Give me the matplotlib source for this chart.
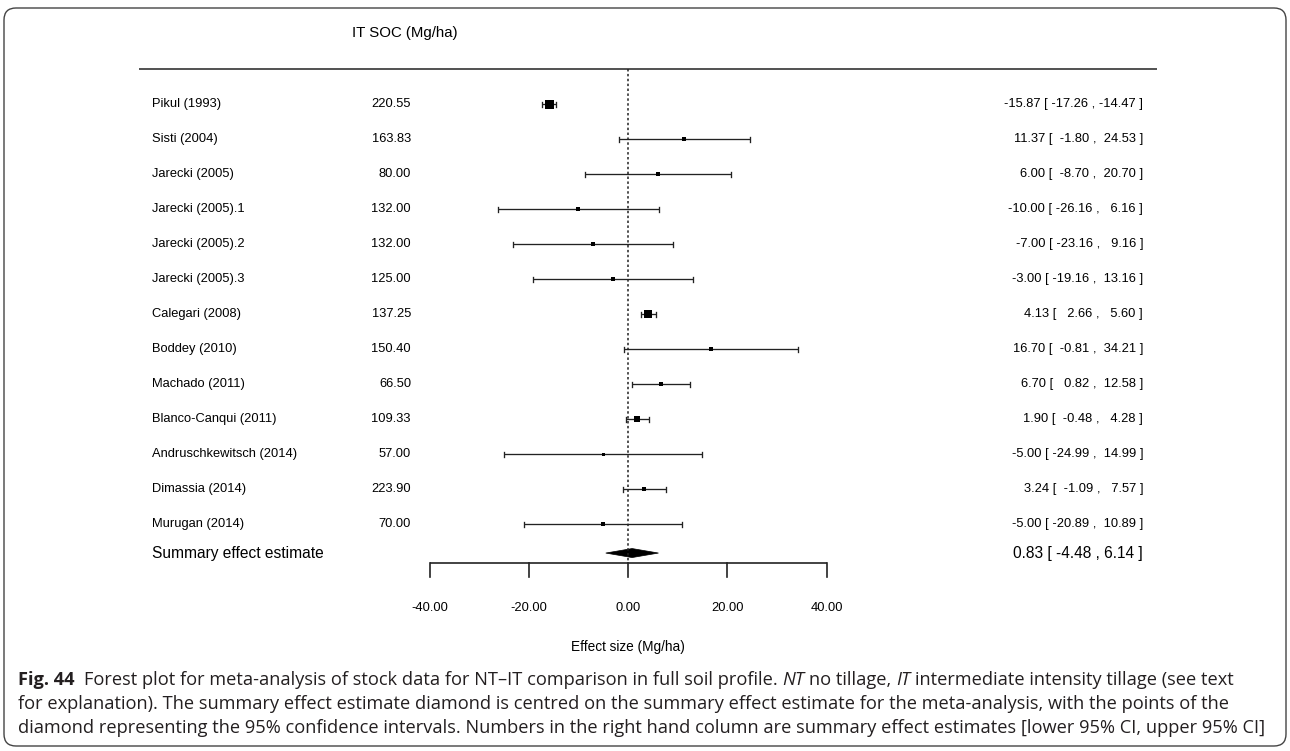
import numpy as np
import matplotlib
matplotlib.use("Agg")
import matplotlib.pyplot as plt
from matplotlib.patches import FancyBboxPatch, Polygon
from matplotlib.transforms import blended_transform_factory

# data
studies = ["Pikul (1993)", "Sisti (2004)", "Jarecki (2005)", "Jarecki (2005).1",
           "Jarecki (2005).2", "Jarecki (2005).3", "Calegari (2008)", "Boddey (2010)",
           "Machado (2011)", "Blanco-Canqui (2011)", "Andruschkewitsch (2014)",
           "Dimassia (2014)", "Murugan (2014)"]
it_soc = [220.55, 163.83, 80.00, 132.00, 132.00, 125.00, 137.25, 150.40,
          66.50, 109.33, 57.00, 223.90, 70.00]
effect = [-15.87, 11.37, 6.00, -10.00, -7.00, -3.00, 4.13, 16.70,
          6.70, 1.90, -5.00, 3.24, -5.00]
ci_low = [-17.26, -1.80, -8.70, -26.16, -23.16, -19.16, 2.66, -0.81,
          0.82, -0.48, -24.99, -1.09, -20.89]
ci_high = [-14.47, 24.53, 20.70, 6.16, 9.16, 13.16, 5.60, 34.21,
           12.58, 4.28, 14.99, 7.57, 10.89]
summary_est, summary_low, summary_high = 0.83, -4.48, 6.14
x_ticks = [-40, -20, 0, 20, 40]

caption = [
    [("Fig. 44", "bold"), ("Forest plot for meta-analysis of stock data for NT\u2013IT comparison in full soil profile.", "normal"),
     ("NT", "italic"), ("no tillage,", "normal"), ("IT", "italic"),
     ("intermediate intensity tillage (see text", "normal")],
    [("for explanation). The summary effect estimate diamond is centred on the summary effect estimate for the meta-analysis, with the points of the", "normal")],
    [("diamond representing the 95% confidence intervals. Numbers in the right hand column are summary effect estimates [lower 95% CI, upper 95% CI]", "normal")],
]

# layout (figure pixels)
W, H = 1290, 751
X0_PX = 628.0
PX_PER_UNIT = (826.0 - 429.0) / 80.0
ROW0_PX, ROW_PX = 104.0, 35.0
FS = 9.3
plt.rcParams['font.family'] = ['Liberation Sans', 'DejaVu Sans']


def row_of(px):
    return (px - ROW0_PX) / ROW_PX


fig = plt.figure(figsize=(W / 100, H / 100), dpi=100)
bg = fig.add_axes([0, 0, 1, 1])
bg.set_xlim(0, W)
bg.set_ylim(H, 0)
bg.axis('off')
ax = fig.add_axes([0, 0, 1, 1])
ax.set_xlim(-X0_PX / PX_PER_UNIT, (W - X0_PX) / PX_PER_UNIT)
ax.set_ylim(row_of(H), row_of(0))
ax.axis('off')
ax.patch.set_alpha(0)
tr = blended_transform_factory(bg.transData, ax.transData)

# frame
bg.add_patch(FancyBboxPatch((4, 8), 1282, 738, boxstyle="round,pad=0,rounding_size=12",
                            lw=1.0, ec='#444444', fc='none'))

# header and top rule
bg.text(352, 33, "IT SOC (Mg/ha)", fontsize=10.8, ha='left', va='center')
bg.plot([139, 1157], [69, 69], color='#333333', lw=1.2, solid_capstyle='butt')

n = len(studies)
y = np.arange(n)
lo = np.array(ci_low)
hi = np.array(ci_high)
# box size from (sqrt) inverse-variance weights
w = np.sqrt(1.0 / ((hi - lo) / 3.92) ** 2)
psize = (w - w.min()) / (w.max() - w.min()) + 0.5
box_px = psize * 6.0

cap = 2.5 / ROW_PX
axis_y = row_of(563)
ax.plot([0, 0], [row_of(69), axis_y], color='#222222', lw=1.1, ls=(0, (1.6, 1.6)))

for i in range(n):
    ax.plot([lo[i], hi[i]], [y[i], y[i]], color='#222222', lw=0.95, solid_capstyle='butt')
    ax.plot([lo[i], lo[i]], [y[i] - cap, y[i] + cap], color='#222222', lw=0.95)
    ax.plot([hi[i], hi[i]], [y[i] - cap, y[i] + cap], color='#222222', lw=0.95)
    ax.plot(effect[i], y[i], marker='s', ms=box_px[i] * 0.72, color='black', mew=0)
    ax.text(152, y[i], studies[i], transform=tr, ha='left', va='center', fontsize=FS)
    ax.text(411, y[i], f"{it_soc[i]:.2f}", transform=tr, ha='right', va='center', fontsize=FS)
    ax.text(1143, y[i], f"{effect[i]:.2f} [{lo[i]:7.2f} , {hi[i]:6.2f} ]",
            transform=tr, ha='right', va='center', fontsize=FS)

# summary diamond
ys = n - 1 + 0.83
dh = 4.5 / ROW_PX
ax.add_patch(Polygon([[summary_low, ys], [summary_est, ys - dh], [summary_high, ys],
                      [summary_est, ys + dh]], closed=True, fc='black', ec='black', lw=0.5))
ax.text(152, ys, "Summary effect estimate", transform=tr, ha='left', va='center', fontsize=11.2)
ax.text(1143, ys, f"{summary_est:.2f} [ {summary_low:.2f} , {summary_high:.2f} ]",
        transform=tr, ha='right', va='center', fontsize=11.2)

# x axis
ax.plot([x_ticks[0], x_ticks[-1]], [axis_y, axis_y], color='#222222', lw=1.2, solid_capstyle='butt')
for t in x_ticks:
    ax.plot([t, t], [axis_y, row_of(577)], color='#222222', lw=1.2)
    ax.text(t, row_of(608), f"{t:.2f}", ha='center', va='center', fontsize=FS)
ax.text(0, row_of(647), "Effect size (Mg/ha)", ha='center', va='center', fontsize=9.8)

# caption with mixed styles, sized so the last line spans the frame width
renderer = fig.canvas.get_renderer()


def seg_width(s, fs, weight='normal', style='normal'):
    t = bg.text(0, 0, s, fontsize=fs, fontweight=weight, fontstyle=style, family='Open Sans')
    wd = t.get_window_extent(renderer).width
    t.remove()
    return wd


cap_fs = 10.0 * (1267 - 18) / seg_width(caption[2][0][0], 10.0)
space = seg_width("x x", cap_fs) - seg_width("xx", cap_fs)
for k, line in enumerate(caption):
    x = 18
    yb = 685 + 24 * k
    for s, st in line:
        weight = 'bold' if st == 'bold' else 'normal'
        style = 'italic' if st == 'italic' else 'normal'
        t = bg.text(x, yb, s, fontsize=cap_fs, fontweight=weight, fontstyle=style,
                    family='Open Sans', color='#231f20', va='baseline')
        x += t.get_window_extent(renderer).width + (space * 2 if st == 'bold' else space)

fig.savefig("out.png", dpi=100)
